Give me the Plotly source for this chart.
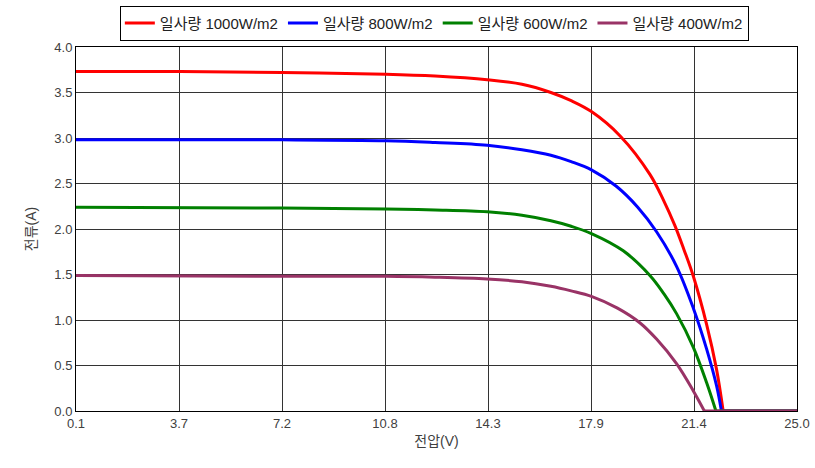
import numpy as np
import plotly.graph_objects as go

series_names = ["일사량 1000W/m2", "일사량 800W/m2", "일사량 600W/m2", "일사량 400W/m2"]
series_colors = ["#ff0000", "#0000ff", "#008000", "#993366"]

x_1000 = [0.1, 3.7, 7.2, 10.8, 12.5, 14.3, 15.5, 16.5, 17.2, 17.9, 18.9, 19.92, 20.4, 20.78, 21.1, 21.42, 21.88, 22.22, 22.45]
y_1000 = [3.73, 3.73, 3.72, 3.70, 3.68, 3.64, 3.59, 3.50, 3.41, 3.29, 3.02, 2.60, 2.31, 2.04, 1.77, 1.48, 0.95, 0.46, 0.0]

x_800 = [0.1, 7.2, 10.8, 12.5, 14.3, 15.5, 16.5, 17.2, 17.9, 18.76, 19.5, 20.15, 20.84, 21.42, 21.88, 22.22, 22.39]
y_800 = [2.98, 2.98, 2.97, 2.95, 2.92, 2.87, 2.81, 2.74, 2.65, 2.47, 2.24, 1.97, 1.59, 1.13, 0.68, 0.28, 0.0]

x_600 = [0.1, 7.2, 10.8, 12.5, 14.3, 15.5, 16.5, 17.2, 17.9, 19.0, 19.92, 20.4, 20.84, 21.42, 21.88, 22.2]
y_600 = [2.24, 2.23, 2.22, 2.21, 2.19, 2.15, 2.09, 2.03, 1.95, 1.76, 1.49, 1.29, 1.07, 0.70, 0.31, 0.0]

x_400 = [0.1, 7.2, 10.8, 12.5, 14.3, 15.5, 16.5, 17.2, 17.9, 18.8, 19.57, 20.15, 20.84, 21.42, 21.8]
y_400 = [1.49, 1.48, 1.48, 1.47, 1.45, 1.42, 1.37, 1.32, 1.26, 1.13, 0.97, 0.79, 0.52, 0.22, 0.0]

# zero-current tail beyond open-circuit voltage
x_tail_end = 25.0
y_tail = 0.0

x_tick_labels = ["0.1", "3.7", "7.2", "10.8", "14.3", "17.9", "21.4", "25.0"]
y_tick_labels = ["0.0", "0.5", "1.0", "1.5", "2.0", "2.5", "3.0", "3.5", "4.0"]

xs = [x_1000, x_800, x_600, x_400]
ys = [y_1000, y_800, y_600, y_400]

fig = go.Figure()
for i, (name, color, x, y) in enumerate(zip(series_names, series_colors, xs, ys)):
    fig.add_trace(go.Scatter(
        x=x, y=y, name=name, mode="lines", legendgroup=str(i),
        line=dict(color=color, width=3, shape="spline", smoothing=1.0, simplify=False),
    ))
for i, (color, x) in enumerate(zip(series_colors, xs)):
    fig.add_trace(go.Scatter(
        x=[x[-1], x_tail_end], y=[y_tail, y_tail], mode="lines",
        legendgroup=str(i), showlegend=False,
        line=dict(color=color, width=3),
    ))

font_family = "Liberation Sans, Noto Sans CJK KR, sans-serif"
x_tickvals = np.linspace(0.1, 25.0, len(x_tick_labels))
y_tickvals = [float(t) for t in y_tick_labels]

fig.update_layout(
    width=815, height=468,
    margin=dict(l=76, r=18, t=47, b=57, autoexpand=False),
    paper_bgcolor="white", plot_bgcolor="white",
    font=dict(family=font_family, size=13, color="#404040"),
    showlegend=True,
    legend=dict(
        orientation="h", x=0.497, xanchor="center", y=1.113, yanchor="top",
        bordercolor="#000000", borderwidth=1,
        font=dict(size=15, color="#222222"), itemwidth=30,
        bgcolor="white", tracegroupgap=0,
    ),
    xaxis=dict(
        range=[0.1, 25.0], tickvals=x_tickvals, ticktext=x_tick_labels,
        showgrid=True, gridcolor="#333333", gridwidth=1, automargin=False,
        showline=True, linecolor="#000000", linewidth=1, mirror=True,
        zeroline=False, ticks="", ticklen=0,
        title=dict(text="전압(V)", font=dict(size=14, color="#404040"), standoff=6),
    ),
    yaxis=dict(
        range=[0, 4.0], tickvals=y_tickvals, ticktext=y_tick_labels,
        showgrid=True, gridcolor="#333333", gridwidth=1, automargin=False,
        showline=True, linecolor="#000000", linewidth=1, mirror=True,
        zeroline=False, ticks="", ticklen=0,
        title=dict(text="전류(A)", font=dict(size=14, color="#404040"), standoff=14),
    ),
)

fig.write_html("out.html", config={"displayModeBar": False},
               post_script="document.body.style.margin='0';")
